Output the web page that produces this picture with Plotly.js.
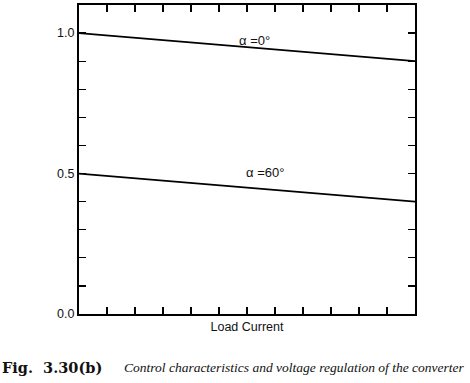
<!DOCTYPE html>
<html>
<head>
<meta charset="utf-8">
<script src="https://cdn.plot.ly/plotly-3.0.1.min.js"></script>
<style>html,body{margin:0;padding:0;background:#fff;}#chart{width:470px;height:383px;}</style>
</head>
<body>
<div id="chart"></div>
<script>
var loadCurrent = [0, 12];
var alpha0 = [1.0, 0.9];
var alpha60 = [0.5, 0.4];
var yTickVals = [0, 0.1, 0.2, 0.3, 0.4, 0.5, 0.6, 0.7, 0.8, 0.9, 1.0, 1.1];
var yTickText = ["0.0", "", "", "", "", "0.5", "", "", "", "", "1.0", ""];
var xTickVals = [0, 1, 2, 3, 4, 5, 6, 7, 8, 9, 10, 11, 12];
var labelAlpha0 = "α =0°";
var labelAlpha60 = "α =60°";
var xTitle = "Load Current";
var figNo = "Fig.&nbsp; 3.30(b)";
var caption = "Control characteristics and voltage regulation of the converter";

var traces = [
  {x: loadCurrent, y: alpha0, mode: "lines", line: {color: "#000", width: 1.7}, hoverinfo: "skip"},
  {x: loadCurrent, y: alpha60, mode: "lines", line: {color: "#000", width: 1.7}, hoverinfo: "skip"}
];

var layout = {
  width: 470, height: 383,
  margin: {l: 79, r: 55, t: 5, b: 69},
  paper_bgcolor: "#fff", plot_bgcolor: "#fff",
  showlegend: false,
  font: {family: "Liberation Sans, Arial, sans-serif", color: "#111", size: 12},
  xaxis: {
    range: [0, 12], tickvals: xTickVals, showticklabels: false,
    ticks: "inside", ticklen: 7, tickwidth: 1.3, tickcolor: "#000",
    showline: true, linecolor: "#000", linewidth: 2, mirror: "allticks",
    showgrid: false, zeroline: false, fixedrange: true,
    title: {text: xTitle, standoff: 7, font: {size: 12.5, color: "#111"}}
  },
  yaxis: {
    range: [0, 1.1], tickvals: yTickVals, ticktext: yTickText,
    ticks: "inside", ticklen: 7, tickwidth: 1.3, tickcolor: "#000",
    showline: true, linecolor: "#000", linewidth: 2, mirror: "allticks",
    showgrid: false, zeroline: false, fixedrange: true,
    tickfont: {size: 12.5, color: "#111"}
  },
  annotations: [
    {x: 6.25, y: 0.975, xref: "x", yref: "y", text: labelAlpha0, showarrow: false,
     font: {size: 13, color: "#111"}},
    {x: 6.65, y: 0.502, xref: "x", yref: "y", text: labelAlpha60, showarrow: false,
     font: {size: 13, color: "#111"}},
    {x: -0.235, y: -0.172, xref: "paper", yref: "paper", xanchor: "left", yanchor: "middle",
     text: "<b>" + figNo + "</b>", showarrow: false,
     font: {family: "DejaVu Serif, serif", size: 14.5, color: "#111"}},
    {x: 0.128, y: -0.172, xref: "paper", yref: "paper", xanchor: "left", yanchor: "middle",
     text: "<i>" + caption + "</i>", showarrow: false,
     font: {family: "Liberation Serif, Times New Roman, serif", size: 13.5, color: "#111"}}
  ]
};

Plotly.newPlot("chart", traces, layout, {staticPlot: true, displayModeBar: false});
</script>
</body>
</html>
